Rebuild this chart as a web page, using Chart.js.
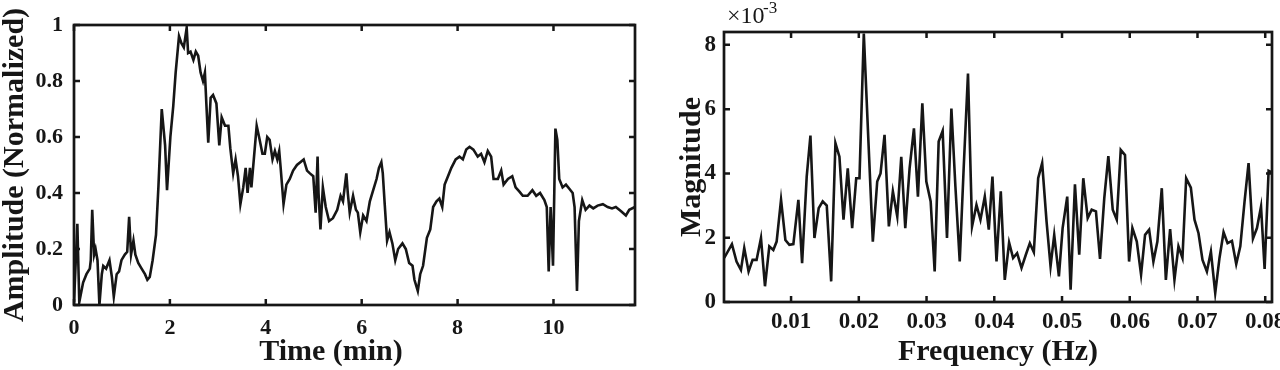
<!DOCTYPE html>
<html>
<head>
<meta charset="utf-8">
<script src="https://cdn.jsdelivr.net/npm/chart.js@4.4.0/dist/chart.umd.min.js"></script>
<style>
  html, body { margin: 0; padding: 0; background: #fff; }
  #wrap { position: relative; width: 1280px; height: 370px; overflow: hidden; }
  .box { position: absolute; top: 0; height: 370px; }
  #left { left: 0; width: 660px; }
  #right { left: 660px; width: 620px; }
</style>
</head>
<body>
<div id="wrap">
  <div class="box" id="left"><canvas id="timeChart"></canvas></div>
  <div class="box" id="right"><canvas id="freqChart"></canvas></div>
</div>
<script>
// left panel: normalized amplitude over time
const timeMin = [
  0, 0.07, 0.11, 0.19, 0.26, 0.33, 0.35, 0.38, 0.42, 0.45,
  0.49, 0.53, 0.58, 0.61, 0.67, 0.74, 0.79, 0.83, 0.89, 0.94,
  0.99, 1.06, 1.11, 1.15, 1.19, 1.24, 1.28, 1.34, 1.41, 1.48,
  1.53, 1.58, 1.64, 1.71, 1.76, 1.83, 1.90, 1.94, 2.01, 2.07,
  2.12, 2.19, 2.24, 2.29, 2.35, 2.38, 2.43, 2.49, 2.54, 2.59,
  2.64, 2.69, 2.73, 2.76, 2.80, 2.85, 2.90, 2.97, 3.03, 3.08,
  3.15, 3.22, 3.26, 3.32, 3.37, 3.42, 3.47, 3.53, 3.58, 3.62,
  3.67, 3.70, 3.75, 3.81, 3.86, 3.93, 3.98, 4.03, 4.08, 4.14,
  4.19, 4.24, 4.28, 4.31, 4.37, 4.43, 4.50, 4.57, 4.65, 4.72,
  4.79, 4.86, 4.92, 4.99, 5.04, 5.08, 5.10, 5.14, 5.19, 5.25,
  5.32, 5.40, 5.49, 5.56, 5.61, 5.68, 5.71, 5.75, 5.82, 5.88,
  5.92, 5.97, 6.03, 6.10, 6.17, 6.24, 6.31, 6.36, 6.41, 6.44,
  6.48, 6.53, 6.58, 6.64, 6.70, 6.76, 6.85, 6.92, 6.99, 7.06,
  7.10, 7.17, 7.22, 7.28, 7.36, 7.43, 7.49, 7.56, 7.62, 7.68,
  7.73, 7.80, 7.87, 7.96, 8.04, 8.11, 8.18, 8.25, 8.33, 8.42,
  8.49, 8.56, 8.63, 8.70, 8.75, 8.84, 8.91, 8.96, 9.05, 9.14,
  9.21, 9.29, 9.36, 9.46, 9.56, 9.64, 9.72, 9.81, 9.86, 9.90,
  9.94, 9.99, 10.04, 10.08, 10.12, 10.19, 10.26, 10.33, 10.40, 10.44,
  10.49, 10.53, 10.60, 10.67, 10.75, 10.83, 10.92, 11.03, 11.13, 11.22,
  11.30, 11.41, 11.51, 11.58, 11.70
]
const amplitude = [
  0.01, 0.29, 0.01, 0.08, 0.11, 0.13, 0.16, 0.34, 0.18, 0.20,
  0.16, 0.0, 0.11, 0.14, 0.13, 0.16, 0.10, 0.03, 0.11, 0.12,
  0.16, 0.18, 0.19, 0.315, 0.18, 0.23, 0.18, 0.15, 0.13, 0.11,
  0.09, 0.10, 0.16, 0.25, 0.42, 0.70, 0.57, 0.41, 0.60, 0.71,
  0.83, 0.96, 0.935, 0.92, 0.99, 0.90, 0.905, 0.875, 0.905, 0.89,
  0.83, 0.80, 0.83, 0.72, 0.58, 0.74, 0.75, 0.72, 0.57, 0.67,
  0.64, 0.64, 0.56, 0.47, 0.52, 0.46, 0.36, 0.42, 0.49, 0.40,
  0.49, 0.42, 0.52, 0.64, 0.60, 0.54, 0.54, 0.60, 0.59, 0.52,
  0.55, 0.52, 0.55, 0.49, 0.36, 0.43, 0.45, 0.48, 0.50, 0.51,
  0.52, 0.48, 0.47, 0.46, 0.33, 0.53, 0.40, 0.27, 0.42, 0.35,
  0.30, 0.31, 0.34, 0.39, 0.37, 0.47, 0.40, 0.33, 0.39, 0.34,
  0.33, 0.26, 0.32, 0.30, 0.37, 0.41, 0.45, 0.49, 0.51, 0.47,
  0.36, 0.23, 0.26, 0.22, 0.16, 0.20, 0.22, 0.20, 0.15, 0.14,
  0.09, 0.05, 0.11, 0.14, 0.24, 0.27, 0.35, 0.37, 0.38, 0.35,
  0.43, 0.46, 0.49, 0.52, 0.53, 0.52, 0.555, 0.565, 0.555, 0.53,
  0.54, 0.51, 0.55, 0.53, 0.45, 0.45, 0.48, 0.43, 0.45, 0.46,
  0.42, 0.405, 0.39, 0.39, 0.41, 0.39, 0.40, 0.375, 0.35, 0.12,
  0.35, 0.14, 0.63, 0.59, 0.45, 0.42, 0.43, 0.415, 0.40, 0.35,
  0.05, 0.30, 0.375, 0.34, 0.355, 0.345, 0.355, 0.36, 0.35, 0.345,
  0.35, 0.335, 0.32, 0.34, 0.35
]
const timeTicks = [0, 2, 4, 6, 8, 10]
const ampTicks = [0, 0.2, 0.4, 0.6, 0.8, 1]

// right panel: spectrum magnitude (in units of 1e-3)
const freqHz = [
  0.00013, 0.00127, 0.00195, 0.00260, 0.00309, 0.00373, 0.00432, 0.00491, 0.00556, 0.00615,
  0.00679, 0.00738, 0.00787, 0.00852, 0.00916, 0.00975, 0.01034, 0.01108, 0.01163, 0.01231,
  0.01286, 0.01345, 0.01408, 0.01467, 0.01527, 0.01592, 0.01655, 0.01714, 0.01774, 0.01837,
  0.01902, 0.01962, 0.02010, 0.02074, 0.02140, 0.02207, 0.02272, 0.02321, 0.02380, 0.02444,
  0.02503, 0.02568, 0.02627, 0.02686, 0.02750, 0.02814, 0.02873, 0.02938, 0.02997, 0.03061,
  0.03120, 0.03179, 0.03238, 0.03302, 0.03367, 0.03426, 0.03490, 0.03549, 0.03612, 0.03672,
  0.03737, 0.03796, 0.03860, 0.03919, 0.03973, 0.04033, 0.04096, 0.04155, 0.04219, 0.04278,
  0.04337, 0.04402, 0.04466, 0.04525, 0.04584, 0.04648, 0.04707, 0.04772, 0.04831, 0.04885,
  0.04954, 0.05009, 0.05077, 0.05127, 0.05191, 0.05254, 0.05314, 0.05379, 0.05438, 0.05501,
  0.05561, 0.05624, 0.05684, 0.05749, 0.05808, 0.05867, 0.05930, 0.05990, 0.06039, 0.06104,
  0.06167, 0.06226, 0.06286, 0.06349, 0.06408, 0.06473, 0.06533, 0.06596, 0.06660, 0.06719,
  0.06778, 0.06833, 0.06902, 0.06956, 0.07015, 0.07074, 0.07139, 0.07198, 0.07262, 0.07325,
  0.07385, 0.07444, 0.07509, 0.07572, 0.07632, 0.07695, 0.07754, 0.07819, 0.07878, 0.07938,
  0.07991, 0.08050, 0.08100
]
const magnitude = [
  1.37, 1.80, 1.26, 1.00, 1.68, 0.95, 1.31, 1.31, 1.99, 0.49,
  1.73, 1.62, 1.88, 3.18, 1.93, 1.78, 1.80, 3.18, 1.21, 3.90,
  5.18, 1.99, 2.92, 3.13, 3.00, 0.64, 4.94, 4.52, 2.56, 4.16,
  2.30, 3.85, 3.85, 8.35, 5.10, 1.88, 3.75, 4.00, 5.20, 2.35,
  3.44, 2.66, 4.52, 2.30, 4.16, 5.40, 3.28, 6.18, 3.75, 3.13,
  0.95, 4.99, 5.32, 1.99, 6.02, 3.60, 1.26, 4.20, 7.11, 2.35,
  3.02, 2.56, 3.28, 2.25, 3.90, 1.26, 3.44, 0.69, 1.85, 1.37,
  1.52, 1.06, 1.47, 1.83, 1.55, 3.85, 4.32, 2.50, 1.11, 2.09,
  0.80, 2.30, 3.28, 0.38, 3.66, 1.47, 3.85, 2.61, 2.87, 2.82,
  1.34, 3.23, 4.54, 2.87, 2.56, 4.73, 4.57, 1.26, 2.30, 1.88,
  0.85, 2.09, 2.25, 1.26, 1.88, 3.54, 0.69, 2.27, 0.69, 1.73,
  1.37, 3.85, 3.56, 2.56, 2.14, 1.31, 0.95, 1.57, 0.28, 1.37,
  2.17, 1.83, 1.90, 1.18, 1.73, 3.13, 4.32, 1.97, 2.30, 2.97,
  1.03, 4.08, 4.03
]
const freqTicks = [0.01, 0.02, 0.03, 0.04, 0.05, 0.06, 0.07, 0.08]
const magTicks = [0, 2, 4, 6, 8]

const ink = '#161616'
const serif = '"Liberation Serif", "Times New Roman", serif'

// MATLAB style box: frame plus inward ticks on all four sides, extra text
const framePlugin = {
  id: 'frame',
  afterDatasetsDraw(chart, args, opts) {
    const { ctx, chartArea: a, scales } = chart
    ctx.save()
    ctx.strokeStyle = ink
    ctx.lineWidth = 2.5
    ctx.beginPath()
    scales.x.ticks.forEach(t => {
      const px = scales.x.getPixelForValue(t.value)
      ctx.moveTo(px, a.bottom); ctx.lineTo(px, a.bottom - 6)
      ctx.moveTo(px, a.top); ctx.lineTo(px, a.top + 6)
    })
    scales.y.ticks.forEach(t => {
      const py = scales.y.getPixelForValue(t.value)
      ctx.moveTo(a.left, py); ctx.lineTo(a.left + 6, py)
      ctx.moveTo(a.right, py); ctx.lineTo(a.right - 6, py)
    })
    ctx.stroke()
    ctx.lineWidth = 2.7
    ctx.strokeRect(a.left, a.top, a.right - a.left, a.bottom - a.top)
    ctx.fillStyle = ink
    ;(opts.texts || []).forEach(t => {
      ctx.font = t.font
      ctx.textAlign = t.align || 'center'
      ctx.textBaseline = t.baseline || 'middle'
      ctx.fillText(t.text, t.x, t.y)
    })
    ctx.restore()
  }
}

function fixedTicks(values) {
  return scale => { scale.ticks = values.map(v => ({ value: v })) }
}

function fitSize(key, size) {
  return scale => {
    scale[key] = size
    scale.paddingLeft = 0
    scale.paddingRight = 0
    scale.paddingTop = 0
    scale.paddingBottom = 0
  }
}

function makeChart(id, cfg) {
  const points = cfg.xs.map((x, i) => ({ x: x, y: cfg.ys[i] }))
  return new Chart(document.getElementById(id), {
    type: 'line',
    data: {
      datasets: [{
        data: points,
        borderColor: ink,
        borderWidth: 2.6,
        pointRadius: 0,
        tension: 0,
        fill: false
      }]
    },
    options: {
      responsive: true,
      maintainAspectRatio: false,
      animation: false,
      events: [],
      layout: { padding: cfg.padding },
      plugins: {
        legend: { display: false },
        tooltip: { enabled: false },
        frame: { texts: cfg.texts }
      },
      scales: {
        x: {
          type: 'linear',
          min: cfg.xMin,
          max: cfg.xMax,
          grid: { display: false, drawTicks: false },
          border: { display: false },
          afterBuildTicks: fixedTicks(cfg.xTicks),
          afterFit: fitSize('height', cfg.xHeight),
          ticks: {
            autoSkip: false,
            maxRotation: 0,
            padding: cfg.xPad,
            color: ink,
            font: { family: serif, weight: 'bold', size: cfg.tickSize, lineHeight: 1 },
            callback: v => String(v)
          },
          title: cfg.xTitle
        },
        y: {
          min: cfg.yMin,
          max: cfg.yMax,
          grid: { display: false, drawTicks: false },
          border: { display: false },
          afterBuildTicks: fixedTicks(cfg.yTicks),
          afterFit: fitSize('width', cfg.yWidth),
          ticks: {
            padding: cfg.yPad,
            color: ink,
            font: { family: serif, weight: 'bold', size: cfg.tickSize, lineHeight: 1 },
            callback: v => String(v)
          },
          title: {
            display: true,
            text: cfg.yTitle,
            color: ink,
            font: { family: serif, weight: 'bold', size: 30, lineHeight: 1 },
            padding: { top: cfg.yTitlePad, bottom: 0 }
          }
        }
      }
    },
    plugins: [framePlugin]
  })
}

makeChart('timeChart', {
  xs: timeMin, ys: amplitude,
  xMin: 0, xMax: 11.7, yMin: 0, yMax: 1,
  xTicks: timeTicks, yTicks: ampTicks,
  padding: { left: 0, top: 25, right: 25, bottom: 0 },
  xHeight: 65, yWidth: 74, xPad: 12, yPad: 11, tickSize: 22,
  xTitle: { display: false },
  yTitle: 'Amplitude (Normalized)', yTitlePad: 0,
  texts: [
    { text: 'Time (min)', font: 'bold 30px ' + serif, x: 331, y: 352 }
  ]
})

makeChart('freqChart', {
  xs: freqHz, ys: magnitude,
  xMin: 0.0001, xMax: 0.081, yMin: 0, yMax: 8.4,
  xTicks: freqTicks, yTicks: magTicks,
  padding: { left: 0, top: 32, right: 8, bottom: 0 },
  xHeight: 68, yWidth: 64, xPad: 9, yPad: 8, tickSize: 23,
  xTitle: {
    display: true,
    text: 'Frequency (Hz)',
    color: ink,
    font: { family: serif, weight: 'bold', size: 30, lineHeight: 1 },
    padding: { top: 0, bottom: 3 }
  },
  yTitle: 'Magnitude', yTitlePad: 17,
  texts: [
    { text: '\u00d710', font: '24px ' + serif, x: 67, y: 23, align: 'left', baseline: 'alphabetic' },
    { text: '-3', font: '17px ' + serif, x: 103, y: 13, align: 'left', baseline: 'alphabetic' }
  ]
})
</script>
</body>
</html>
